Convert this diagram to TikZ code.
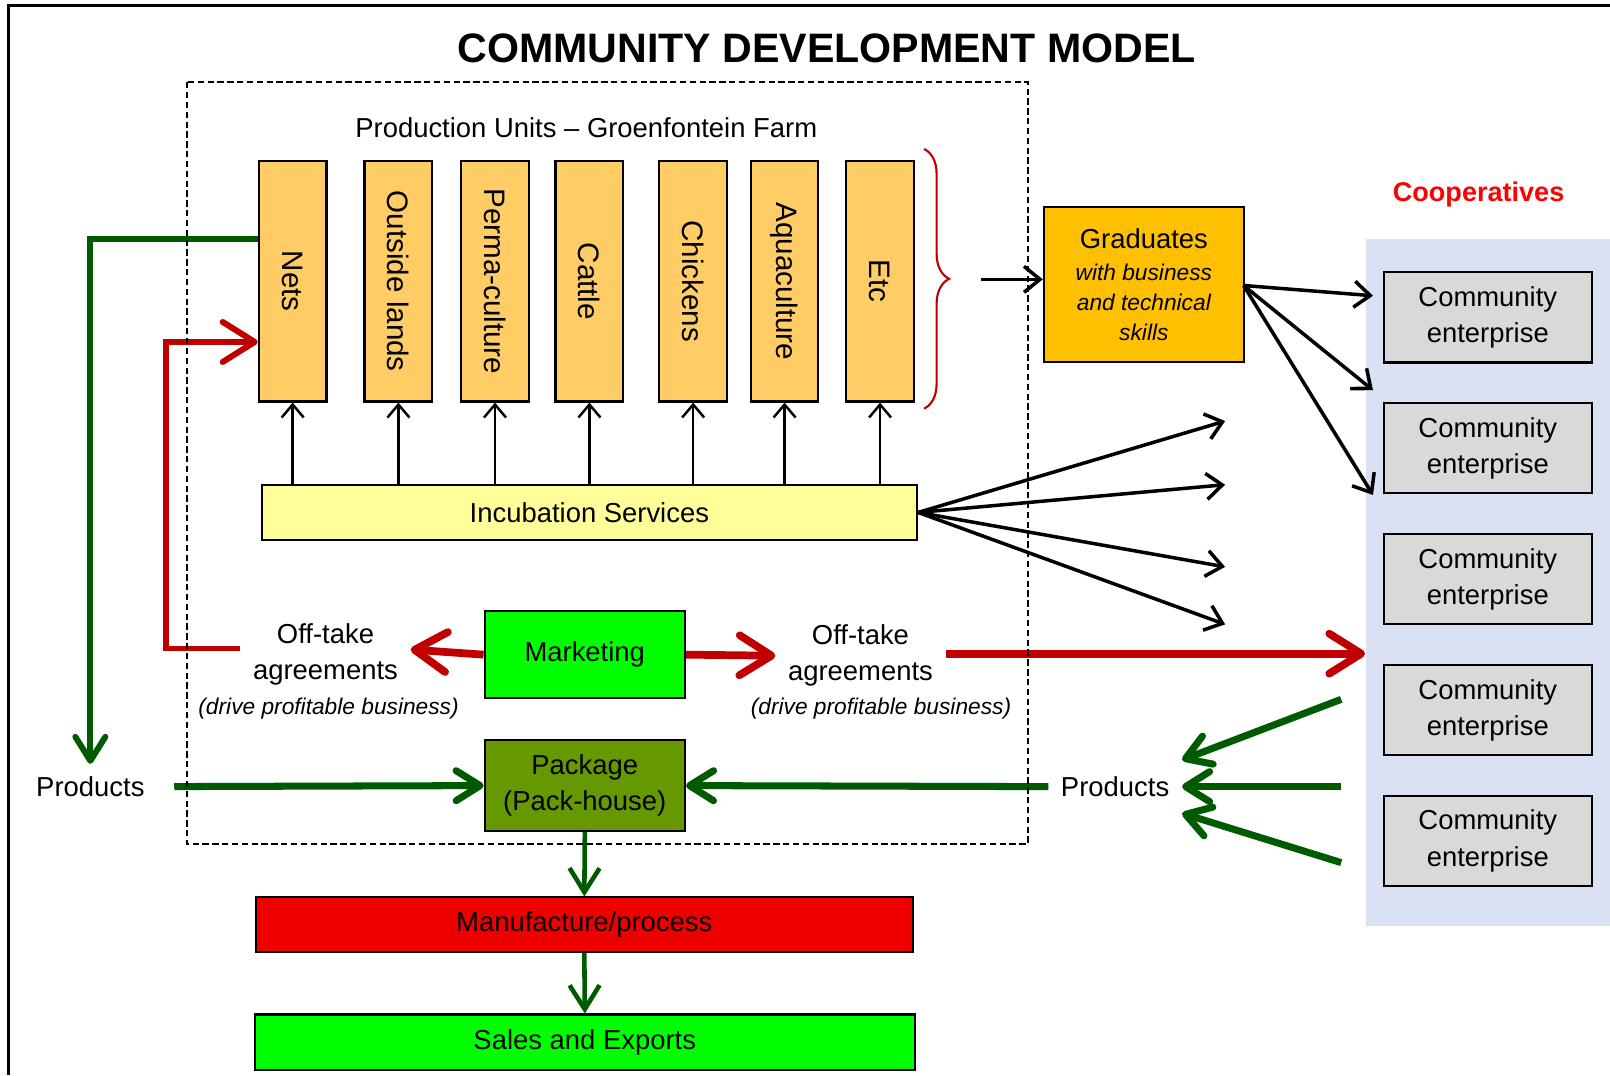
\documentclass[tikz,border=0pt]{standalone}
\usepackage{fontspec}
\setmainfont{Liberation Sans}
\usetikzlibrary{arrows.meta,decorations.pathreplacing}

\definecolor{unitorange}{HTML}{FFCC66}
\definecolor{incubyellow}{HTML}{FFFF99}
\definecolor{gradgold}{HTML}{FFC000}
\definecolor{brightgreen}{HTML}{00FF00}
\definecolor{packolive}{HTML}{669900}
\definecolor{manured}{HTML}{EE0000}
\definecolor{entgrey}{HTML}{D9D9D9}
\definecolor{panelblue}{HTML}{DAE1F3}
\definecolor{flowred}{HTML}{C00000}
\definecolor{flowgreen}{HTML}{005A00}

\newcommand{\gradnote}{\itshape\fontsize{6.3}{8.3}\selectfont}

\begin{document}
\begin{tikzpicture}[scale=1.0268, every node/.append style={transform shape},
  box/.style={draw, line width=0.6pt, inner sep=0pt, align=center,
    font=\fontsize{7.6}{10}\selectfont},
  unitbox/.style={box, fill=unitorange, minimum width=0.66cm,
    minimum height=2.34cm, font=\fontsize{8.2}{10}\selectfont},
  entbox/.style={box, fill=entgrey, minimum width=2.03cm, minimum height=0.88cm},
  textlabel/.style={align=center, font=\fontsize{7.6}{10}\selectfont},
  note/.style={font=\itshape\fontsize{6.3}{8}\selectfont},
  blackarrow/.style={line width=1pt, -{Straight Barb[length=1.6mm,width=2.6mm]}},
  uparrow/.style={line width=0.7pt, -{Straight Barb[length=1.3mm,width=2.2mm]}},
  redarrow/.style={flowred, line width=2.2pt,
    -{Straight Barb[length=3.2mm,width=4mm,round]}},
  greenarrow/.style={flowgreen, line width=2pt,
    -{Straight Barb[length=2.4mm,width=3mm,round]}},
  downarrow/.style={flowgreen, line width=1.3pt,
    -{Straight Barb[length=2.4mm,width=3mm]}}
]
  \useasboundingbox (0,0) rectangle (15.68,-10.47);

  % Frame and title
  \draw [line width=0.9pt] (0.08,-10.47) -- (0.08,-0.05) -- (15.68,-0.05);
  \node [font=\bfseries\fontsize{11.4}{14}\selectfont] (title) at (8.05,-0.47)
        {COMMUNITY DEVELOPMENT MODEL};

  % Production units
  \node [textlabel] (produnits) at (5.71,-1.24) {Production Units -- Groenfontein Farm};
  \foreach \name/\x/\txt in {nets/2.85/Nets, lands/3.88/Outside lands,
      perma/4.82/Perma-culture, cattle/5.74/Cattle, chick/6.75/Chickens,
      aqua/7.64/Aquaculture, etc/8.57/Etc}
    \node [unitbox] (\name) at (\x,-2.74) {\rotatebox{-90}{\txt}};

  % Incubation
  \node [box, fill=incubyellow, minimum width=6.38cm, minimum height=0.54cm]
        (incub) at (5.74,-4.99) {Incubation Services};
  \foreach \name in {nets,lands,perma,cattle,chick,aqua,etc}
    \draw [uparrow] (\name.south |- incub.north) -- (\name.south);

  % Graduates
  \draw [flowred, line width=0.6pt, decorate,
         decoration={brace, amplitude=0.25cm}] (9.0,-1.45) -- (9.0,-3.98);
  \coordinate (bracetip) at (9.55,-2.72);
  \node [box, fill=gradgold, minimum width=1.95cm, minimum height=1.51cm]
        (grad) at (11.14,-2.77)
        {Graduates\\[-1pt]\gradnote with business\\[-1.7pt]\gradnote and technical\\[-1.7pt]
         \gradnote skills};
  \draw [blackarrow] (bracetip) -- (bracetip -| grad.west);

  % Cooperatives
  \node [font=\bfseries\fontsize{7.5}{9}\selectfont, text=red] (cooplabel)
        at (14.4,-1.89) {Cooperatives};
  \node [fill=panelblue, minimum width=2.8cm, minimum height=6.69cm, inner sep=0pt]
        (coop) at (14.70,-5.675) {};
  \foreach \i/\y in {1/-3.09, 2/-4.365, 3/-5.64, 4/-6.915, 5/-8.19}
    \node [entbox] (ent\i) at (14.49,\y) {Community\\enterprise};

  % Graduates to enterprises
  \coordinate (gradout) at (12.11,-2.78);
  \coordinate (gradend1) at (13.37,-2.88);
  \coordinate (gradend2) at (13.37,-3.80);
  \coordinate (gradend3) at (13.37,-4.82);
  \foreach \i in {1,2,3}
    \draw [blackarrow] (gradout) -- (gradend\i);

  % Incubation outputs
  \coordinate (incout1) at (11.93,-4.10);
  \coordinate (incout2) at (11.93,-4.72);
  \coordinate (incout3) at (11.93,-5.52);
  \coordinate (incout4) at (11.93,-6.08);
  \foreach \i in {1,2,3,4}
    \draw [blackarrow] (incub.east) -- (incout\i);

  % Marketing
  \node [box, fill=brightgreen, minimum width=1.95cm, minimum height=0.85cm]
        (market) at (5.695,-6.375) {Marketing};
  \node [textlabel] (offl) at (3.17,-6.375) {Off-take\\agreements};
  \node [note] (drivel) at (3.20,-6.90) {(drive profitable business)};
  \node [textlabel] (offr) at (8.38,-6.385) {Off-take\\agreements};
  \node [note] (driver) at (8.58,-6.90) {(drive profitable business)};
  \draw [redarrow] (market.west) -- ([yshift=0.5mm]offl.east);
  \draw [redarrow] (market.east) -- (offr.west);
  \draw [redarrow] ([yshift=0.2mm]offr.east) -- ([yshift=0.2mm]offr.east -| coop.west);
  \draw [redarrow, line width=1.7pt] ([yshift=0.6mm]offl.west) -- ++(-0.72,0)
        |- ([yshift=-5.9mm]nets.west);

  % Products
  \node [textlabel] (prodl) at (0.88,-7.66) {Products};
  \node [textlabel] (prodr) at (10.86,-7.66) {Products};
  \draw [greenarrow, line width=1.7pt] ([yshift=4.1mm]nets.west) -| (prodl.north);
  \node [box, fill=packolive, minimum width=1.95cm, minimum height=0.88cm]
        (pack) at (5.695,-7.65) {Package\\(Pack-house)};
  \draw [greenarrow, shorten <=1.7mm] (prodl.east) -- (pack.west);
  \draw [greenarrow] (prodr.west) -- (pack.east);
  \coordinate (entout1) at (13.06,-6.81);
  \coordinate (entout2) at (13.06,-7.66);
  \coordinate (entout3) at (13.06,-8.40);
  \draw [greenarrow] (entout1) -- ([yshift=2.6mm]prodr.east);
  \draw [greenarrow] (entout2) -- (prodr.east);
  \draw [greenarrow] (entout3) -- ([yshift=-2.6mm]prodr.east);

  % Processing chain
  \node [box, fill=manured, minimum width=6.40cm, minimum height=0.53cm]
        (manu) at (5.69,-9.005) {Manufacture/process};
  \node [box, fill=brightgreen, minimum width=6.43cm, minimum height=0.54cm]
        (sales) at (5.695,-10.15) {Sales and Exports};
  \draw [downarrow] (pack.south) -- (manu.north);
  \draw [downarrow] (manu.south) -- (sales.north);

  % Farm boundary
  \draw [line width=0.5pt, dash pattern=on 1.8pt off 1pt]
        (1.82,-0.80) rectangle (10.01,-8.22);
\end{tikzpicture}
\end{document}
